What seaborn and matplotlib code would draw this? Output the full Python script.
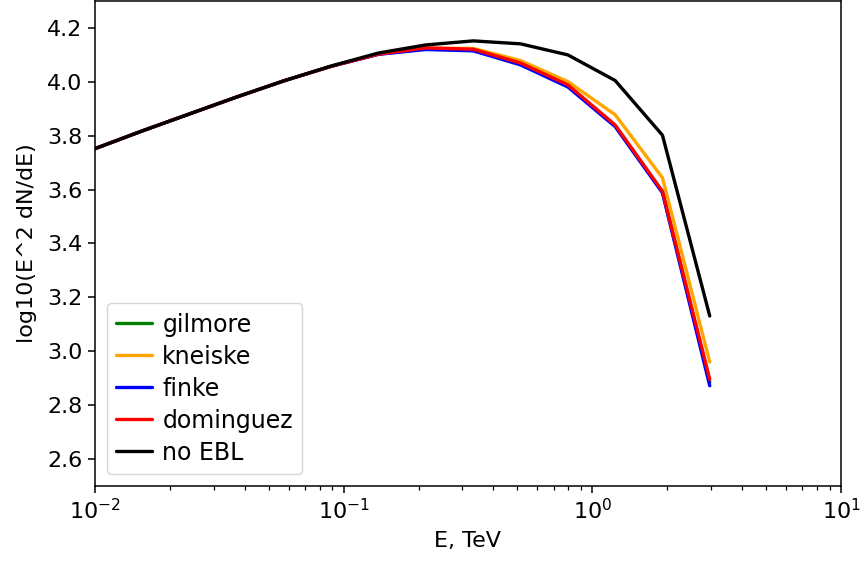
import numpy as np
import pandas as pd
import matplotlib
matplotlib.use("Agg")
import matplotlib.pyplot as plt
import seaborn as sns

# Energy grid, TeV
energy = [0.0100, 0.0155, 0.0240, 0.0372, 0.0576, 0.0893, 0.138, 0.214,
          0.332, 0.514, 0.797, 1.235, 1.914, 2.966]

# log10(E^2 dN/dE) for each EBL model
no_ebl = [3.752, 3.818, 3.881, 3.944, 4.004, 4.059, 4.107, 4.137,
          4.152, 4.141, 4.100, 4.005, 3.802, 3.131]
gilmore = [3.752, 3.818, 3.881, 3.944, 4.004, 4.058, 4.103, 4.123,
           4.118, 4.067, 3.985, 3.837, 3.592, 2.885]
kneiske = [3.752, 3.818, 3.881, 3.944, 4.004, 4.058, 4.104, 4.125,
           4.124, 4.079, 4.001, 3.878, 3.644, 2.960]
finke = [3.752, 3.818, 3.881, 3.944, 4.004, 4.058, 4.102, 4.120,
         4.115, 4.063, 3.981, 3.834, 3.588, 2.872]
dominguez = [3.752, 3.818, 3.881, 3.944, 4.004, 4.058, 4.103, 4.126,
             4.121, 4.070, 3.989, 3.840, 3.594, 2.896]

models = ["gilmore", "kneiske", "finke", "dominguez", "no EBL"]
colors = ["green", "orange", "blue", "red", "black"]
series = [gilmore, kneiske, finke, dominguez, no_ebl]

df = pd.concat(
    [pd.DataFrame({"E": energy, "flux": vals, "model": name})
     for name, vals in zip(models, series)],
    ignore_index=True,
)

sns.set_style("ticks")
plt.rcParams.update({
    "font.family": ["DejaVu Sans"],
    "text.color": "black",
    "axes.labelcolor": "black",
    "xtick.color": "black",
    "ytick.color": "black",
})

FS = 16

fig = plt.figure(figsize=(8.61, 5.61), dpi=100)
ax = fig.add_axes([95 / 861, 75 / 561, 746 / 861, 485 / 561])

sns.lineplot(data=df, x="E", y="flux", hue="model", hue_order=models,
             palette=dict(zip(models, colors)), linewidth=2.4, ax=ax,
             sort=False, estimator=None)

ax.set_xscale("log")
ax.set_xlim(1e-2, 1e1)
ax.set_ylim(2.5, 4.3)
ax.set_yticks(np.arange(2.6, 4.21, 0.2))
ax.set_xlabel("E, TeV", fontsize=FS, labelpad=5)
ax.set_ylabel("log10(E^2 dN/dE)", fontsize=FS, labelpad=7)
ax.tick_params(axis="both", which="major", labelsize=FS, length=5, width=1.1,
               direction="out", color="black", pad=4)
ax.tick_params(axis="x", which="minor", length=3, width=0.9, color="black")
for s in ax.spines.values():
    s.set_visible(True)
    s.set_color("black")
    s.set_linewidth(1.1)

leg = ax.legend(loc="lower left", fontsize=17, frameon=True, fancybox=True,
                handlelength=1.5, handletextpad=0.45, borderpad=0.4,
                labelspacing=0.34, borderaxespad=0.5)
leg.get_frame().set_edgecolor("#cccccc")
for line in leg.get_lines():
    line.set_linewidth(2.4)

fig.savefig("out.png", dpi=100)
